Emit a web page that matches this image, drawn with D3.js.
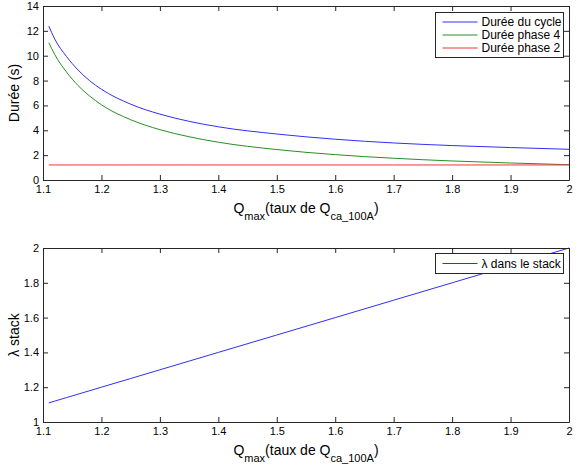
<!DOCTYPE html>
<html>
<head>
<meta charset="utf-8">
<script src="https://cdn.jsdelivr.net/npm/d3@7"></script>
<style>
  body { margin: 0; background: #fff; }
  svg text { font-family: "Liberation Sans", Arial, sans-serif; fill: #000; }
  .axis path, .axis line { stroke: #262626; }
</style>
</head>
<body>
<div id="chart"></div>
<script>
// values
var qmax = [1.11, 1.12, 1.14, 1.16, 1.18, 1.2, 1.25, 1.3, 1.35, 1.4, 1.5, 1.6, 1.7, 1.8, 1.9, 2.0];
var dureeCycle = [12.38, 11.35, 9.95, 8.85, 7.98, 7.3, 6.1, 5.3, 4.72, 4.28, 3.7, 3.28, 2.98, 2.77, 2.61, 2.47];
var dureePhase4 = [11.05, 10.1, 8.7, 7.6, 6.75, 6.05, 4.85, 4.05, 3.48, 3.04, 2.45, 2.04, 1.75, 1.53, 1.37, 1.23];
var dureePhase2 = [1.21, 1.21, 1.21, 1.21, 1.21, 1.21, 1.21, 1.21, 1.21, 1.21, 1.21, 1.21, 1.21, 1.21, 1.21, 1.21];
var lambdaStack = [1.11, 1.12, 1.14, 1.16, 1.18, 1.2, 1.25, 1.3, 1.35, 1.4, 1.5, 1.6, 1.7, 1.8, 1.9, 2.0];

var xTicks = [1.1, 1.2, 1.3, 1.4, 1.5, 1.6, 1.7, 1.8, 1.9, 2];
var yTicksTop = [0, 2, 4, 6, 8, 10, 12, 14];
var yTicksBottom = [1, 1.2, 1.4, 1.6, 1.8, 2];

var seriesTop = [
    { name: "Durée du cycle", values: dureeCycle, color: "#3030f0" },
    { name: "Durée phase 4", values: dureePhase4, color: "#269026" },
    { name: "Durée phase 2", values: dureePhase2, color: "#f03535" }
];
var seriesBottom = [
    { name: "λ dans le stack", values: lambdaStack, color: "#3030f0" }
];

var svg = d3.select('#chart').append('svg')
    .attr("width", 578)
    .attr("height", 467);

var left = 43, right = 569;
var x = d3.scaleLinear().domain([1.1, 2]).range([left, right]);

function fmt(d) { return String(d); }

function drawPanel(top, bottom, yDomain, yTicks, series, yLabel, legendBox) {
    var y = d3.scaleLinear().domain(yDomain).range([bottom, top]);
    var g = svg.append("g");

    var line = d3.line()
        .x((d, i) => x(qmax[i]))
        .y(d => y(d))
        .curve(d3.curveMonotoneX);

    g.selectAll(".serie")
        .data(series)
        .enter().append("path")
        .attr("class", "serie")
        .attr("d", d => line(d.values))
        .attr("fill", "none")
        .attr("stroke", d => d.color)
        .attr("stroke-width", 1);

    // axes, ticks pointing inward, mirrored on top/right
    g.append("g").attr("class", "axis")
        .attr("transform", "translate(0," + bottom + ")")
        .call(d3.axisBottom(x).tickValues(xTicks).tickFormat(fmt).tickSizeInner(-5).tickSizeOuter(0).tickPadding(5))
        .call(a => a.selectAll("text").attr("font-size", 11).attr("dy", "0.75em"));
    g.append("g").attr("class", "axis")
        .attr("transform", "translate(0," + top + ")")
        .call(d3.axisTop(x).tickValues(xTicks).tickFormat("").tickSizeInner(-5).tickSizeOuter(0));
    g.append("g").attr("class", "axis")
        .attr("transform", "translate(" + left + ",0)")
        .call(d3.axisLeft(y).tickValues(yTicks).tickFormat(fmt).tickSizeInner(-5).tickSizeOuter(0).tickPadding(4))
        .call(a => a.selectAll("text").attr("font-size", 11));
    g.append("g").attr("class", "axis")
        .attr("transform", "translate(" + right + ",0)")
        .call(d3.axisRight(y).tickValues(yTicks).tickFormat("").tickSizeInner(-5).tickSizeOuter(0));
    g.selectAll(".axis path").attr("stroke-width", 1);

    // y label
    g.append("text")
        .attr("transform", "translate(19," + ((top + bottom) / 2) + ") rotate(-90)")
        .attr("text-anchor", "middle")
        .attr("font-size", 14)
        .text(yLabel);

    // x label with subscripts
    var xl = g.append("text")
        .attr("x", (left + right) / 2)
        .attr("y", bottom + 33)
        .attr("text-anchor", "middle")
        .attr("font-size", 14);
    xl.append("tspan").text("Q");
    xl.append("tspan").attr("dy", 7).attr("font-size", 11).text("max");
    xl.append("tspan").attr("dy", -7).text("(taux de Q");
    xl.append("tspan").attr("dy", 7).attr("font-size", 11).text("ca_100A");
    xl.append("tspan").attr("dy", -7).text(")");

    // legend
    var lg = g.append("g");
    lg.append("rect")
        .attr("x", legendBox.x).attr("y", legendBox.y)
        .attr("width", legendBox.w).attr("height", legendBox.h)
        .attr("fill", "#fff").attr("stroke", "#262626").attr("stroke-width", 1);
    var rows = lg.selectAll(".row")
        .data(series)
        .enter().append("g")
        .attr("transform", (d, i) => "translate(" + legendBox.x + "," + (legendBox.y + legendBox.first + i * legendBox.step) + ")");
    rows.append("line")
        .attr("x1", 7).attr("x2", 42)
        .attr("stroke", d => d.color).attr("stroke-width", 1);
    rows.append("text")
        .attr("x", 46).attr("dy", "0.35em")
        .attr("font-size", 12)
        .text(d => d.name);
}

drawPanel(6, 180, [0, 14], yTicksTop, seriesTop, "Durée (s)",
    { x: 435.5, y: 12.5, w: 128, h: 45, first: 9.5, step: 13 });
drawPanel(248, 422, [1, 2], yTicksBottom, seriesBottom, "λ stack",
    { x: 435.5, y: 253.5, w: 128, h: 20, first: 10, step: 13 });
</script>
</body>
</html>
